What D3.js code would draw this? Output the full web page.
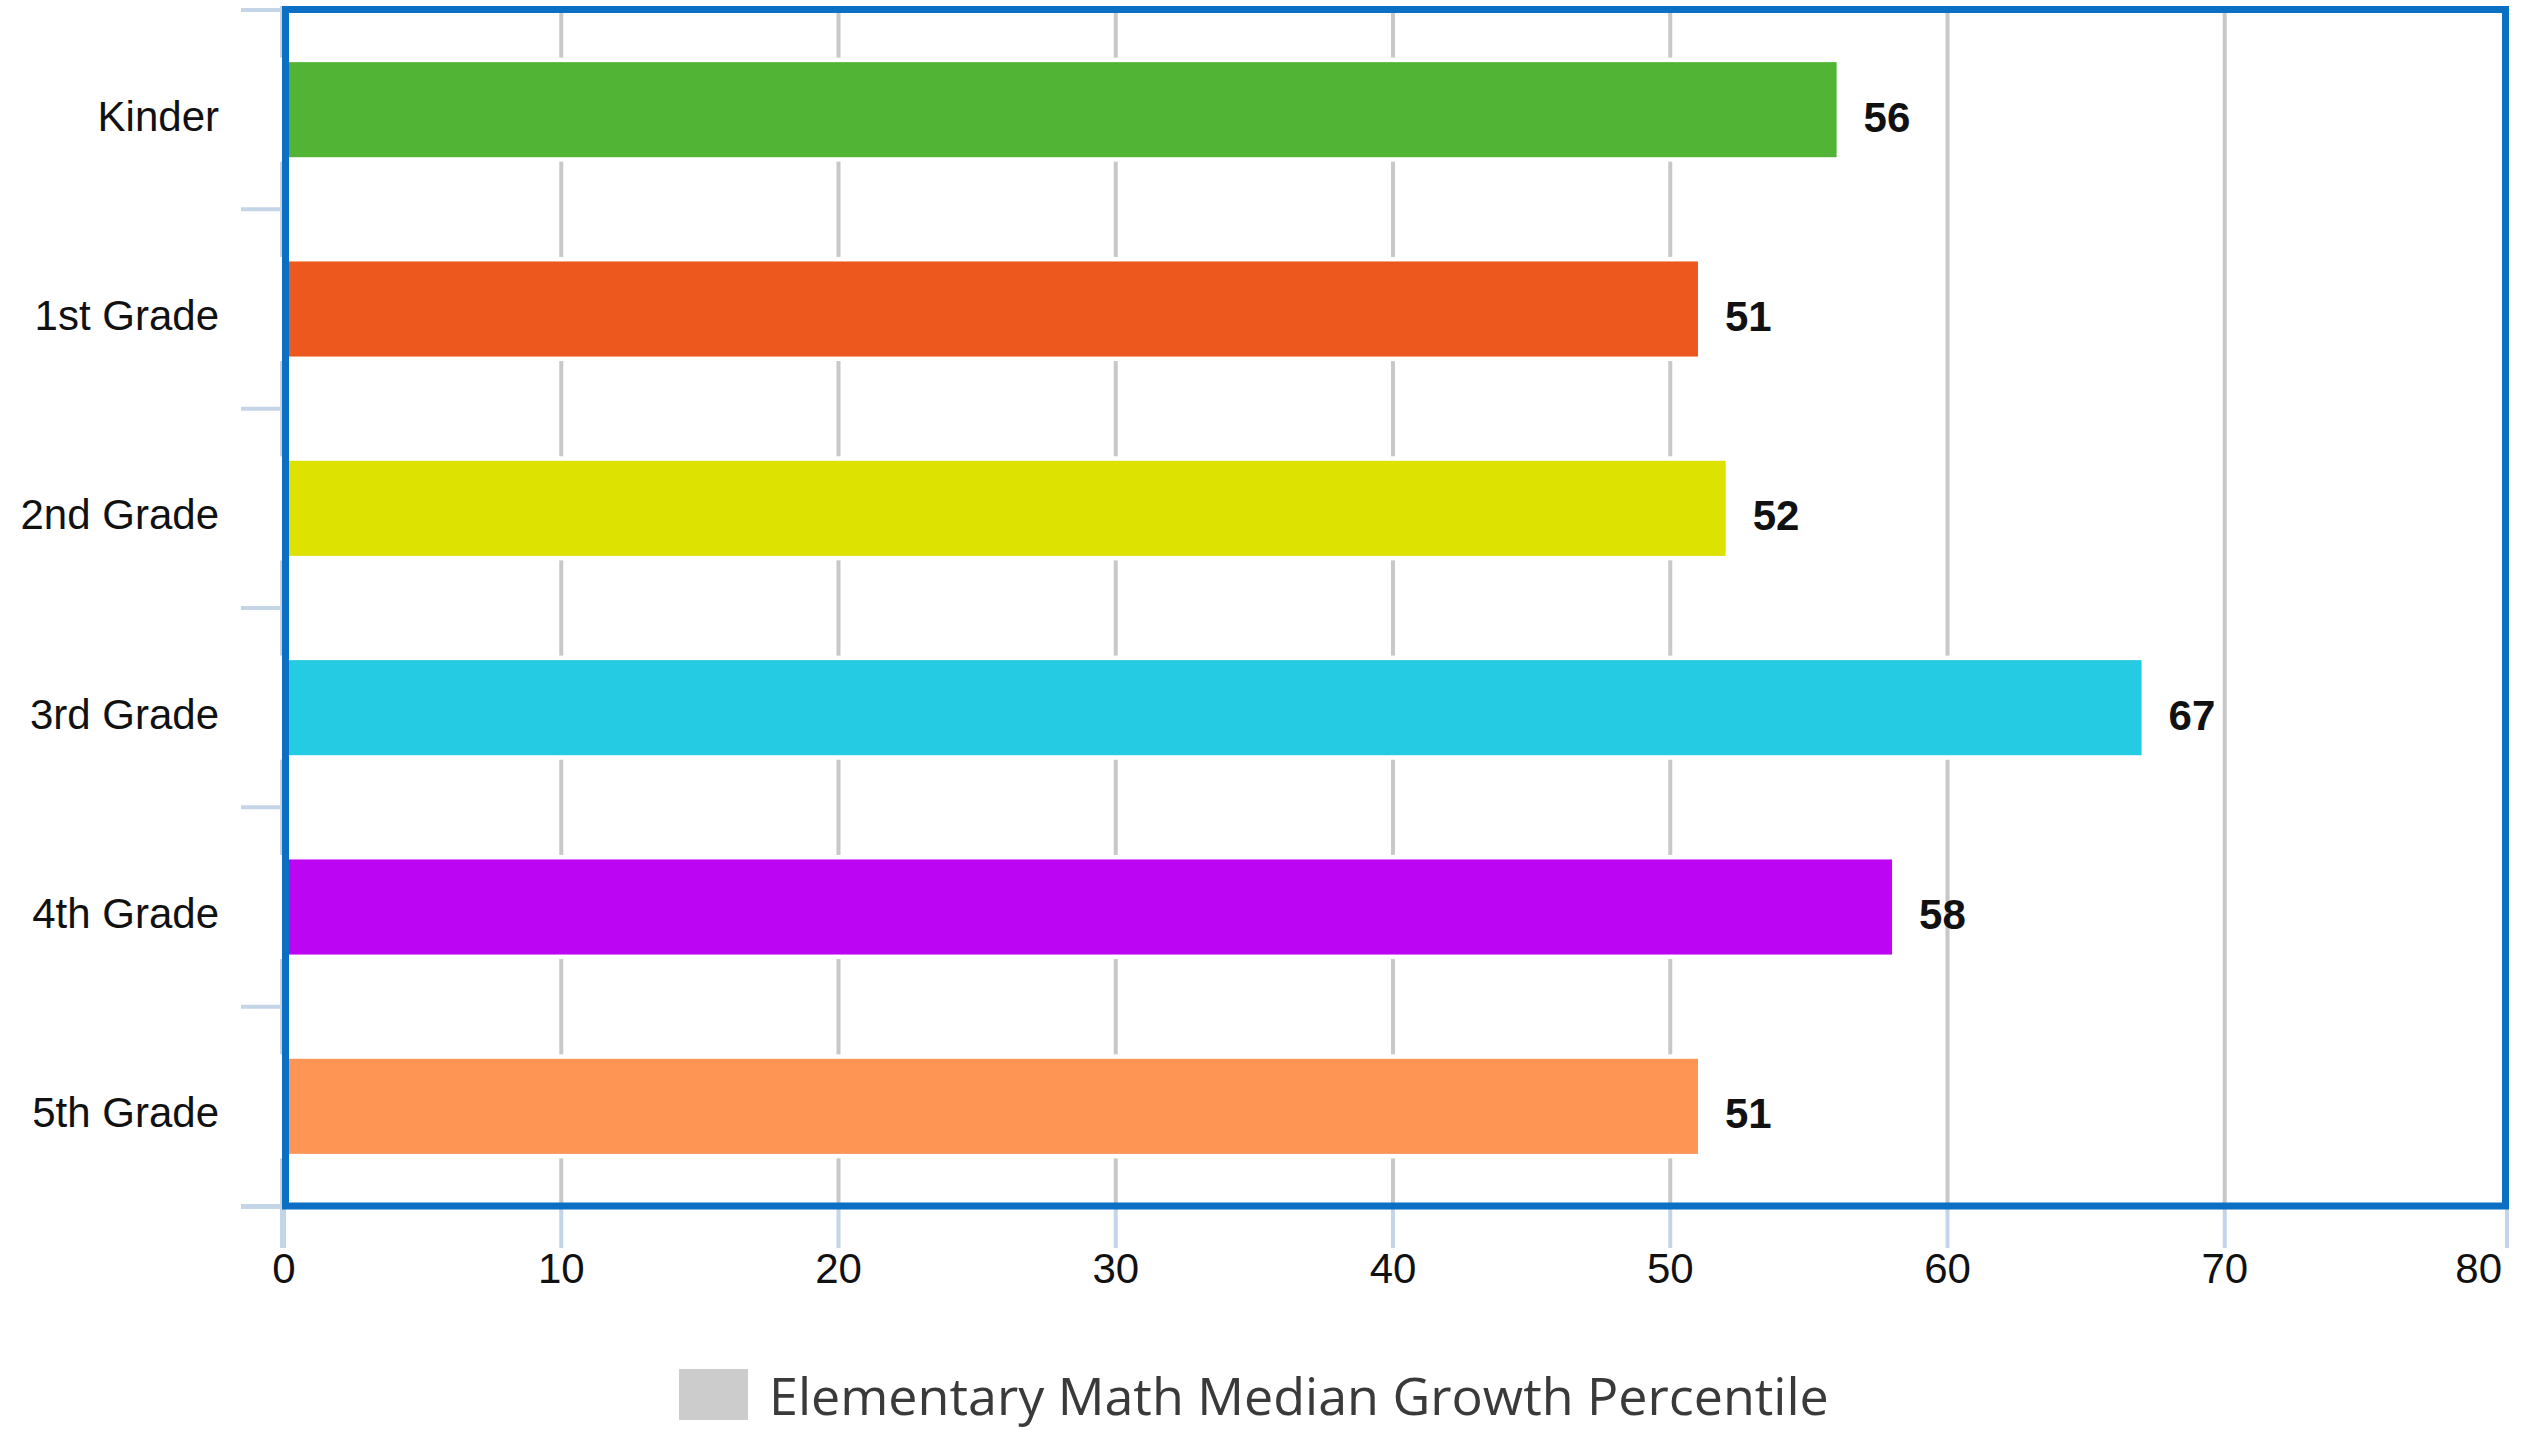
<!DOCTYPE html>
<html>
<head>
<meta charset="utf-8">
<script src="https://cdn.jsdelivr.net/npm/d3@7/dist/d3.min.js"></script>
<style>
  html, body { margin: 0; padding: 0; background: #fff; }
  svg { display: block; }
</style>
</head>
<body>
<div id="chart"></div>
<script>
const grades = ['Kinder', '1st Grade', '2nd Grade', '3rd Grade', '4th Grade', '5th Grade'];
const growth = [56, 51, 52, 67, 58, 51];
const barColors = ['#52b435', '#ec581d', '#dde200', '#25cae3', '#bb05f3', '#ff9555'];
const xTicks = [0, 10, 20, 30, 40, 50, 60, 70, 80];
const legendLabel = 'Elementary Math Median Growth Percentile';

const width = 2524, height = 1430;
const plotLeft = 284, plotRight = 2502, plotTop = 10, plotBottom = 1206;

let svg = d3.select('#chart').append('svg')
  .attr('width', width)
  .attr('height', height);

let x = d3.scaleLinear().domain([0, 80]).range([plotLeft, plotRight]);

let y = d3.scaleBand()
  .domain(grades)
  .range([plotTop, plotBottom])
  .paddingInner(0.523)
  .paddingOuter(0.2615);

let gap = (y.step() - y.bandwidth()) / 2;
let bounds = grades.map(g => y(g) - gap).concat([plotBottom]);

// gridlines
svg.append('g').selectAll('line')
  .data(xTicks.filter(t => t > 0 && t < 80))
  .enter().append('line')
  .attr('x1', d => x(d)).attr('x2', d => x(d))
  .attr('y1', plotTop).attr('y2', plotBottom)
  .style('stroke', '#c8c8c8')
  .style('stroke-width', 4);

// light axis lines and ticks
let axisColor = '#c5d5e8';
svg.append('line')
  .attr('x1', plotLeft - 2).attr('x2', plotLeft - 2)
  .attr('y1', plotTop - 4).attr('y2', 1248)
  .style('stroke', axisColor).style('stroke-width', 4);
svg.append('line')
  .attr('x1', 241).attr('x2', plotRight + 5)
  .attr('y1', plotBottom + 1).attr('y2', plotBottom + 1)
  .style('stroke', axisColor).style('stroke-width', 4);

svg.append('g').selectAll('line')
  .data(bounds)
  .enter().append('line')
  .attr('x1', 241).attr('x2', plotLeft)
  .attr('y1', d => d).attr('y2', d => d)
  .style('stroke', axisColor).style('stroke-width', 4);

svg.append('g').selectAll('line')
  .data(xTicks)
  .enter().append('line')
  .attr('x1', d => x(d) + (d === 80 ? 5 : 0)).attr('x2', d => x(d) + (d === 80 ? 5 : 0))
  .attr('y1', plotBottom).attr('y2', 1248)
  .style('stroke', axisColor).style('stroke-width', 4);

// bars
svg.append('g').selectAll('rect')
  .data(grades)
  .enter().append('rect')
  .attr('x', x(0))
  .attr('y', d => y(d))
  .attr('width', (d, i) => x(growth[i]) - x(0))
  .attr('height', y.bandwidth())
  .style('fill', (d, i) => barColors[i])
  .style('stroke', '#fff')
  .style('stroke-width', 9)
  .style('paint-order', 'stroke');

// value labels
svg.append('g').selectAll('text')
  .data(grades)
  .enter().append('text')
  .attr('x', (d, i) => x(growth[i]) + 27)
  .attr('y', d => y(d) + y.bandwidth() / 2 + 22)
  .text((d, i) => growth[i])
  .style('font-family', '"Liberation Sans", Arial, sans-serif')
  .style('font-weight', 'bold')
  .style('font-size', '42px')
  .style('fill', '#111');

// plot frame
svg.append('rect')
  .attr('x', plotLeft + 1.5).attr('y', plotTop - 0.5)
  .attr('width', plotRight - plotLeft + 2).attr('height', plotBottom - plotTop + 0.5)
  .style('fill', 'none')
  .style('stroke', '#0b6fc3')
  .style('stroke-width', 7);

// category labels
svg.append('g').selectAll('text')
  .data(grades)
  .enter().append('text')
  .attr('x', 219)
  .attr('y', d => y(d) + y.bandwidth() / 2 + 21)
  .attr('text-anchor', 'end')
  .text(d => d)
  .style('font-family', '"Liberation Sans", Arial, sans-serif')
  .style('font-size', '42px')
  .style('fill', '#111');

// x tick labels
svg.append('g').selectAll('text')
  .data(xTicks)
  .enter().append('text')
  .attr('x', d => x(d))
  .attr('y', 1283)
  .attr('text-anchor', d => d === 80 ? 'end' : 'middle')
  .text(d => d)
  .style('font-family', '"Liberation Sans", Arial, sans-serif')
  .style('font-size', '42px')
  .style('fill', '#111');

// legend
svg.append('rect')
  .attr('x', 679).attr('y', 1369)
  .attr('width', 69).attr('height', 51)
  .style('fill', '#cccccc');

svg.append('text')
  .attr('x', 769).attr('y', 1415)
  .text(legendLabel)
  .style('font-family', '"Open Sans", sans-serif')
  .style('font-size', '52px')
  .style('fill', '#3a3a3a');
</script>
</body>
</html>
